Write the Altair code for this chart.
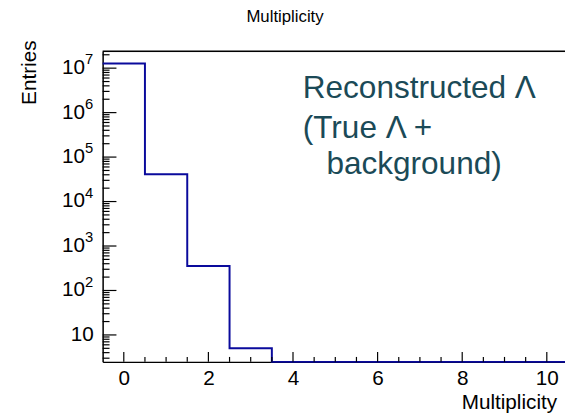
import altair as alt
import pandas as pd

# ---- data ----
bin_left_edges = [-0.5, 0.5, 1.5, 2.5, 3.5, 4.5, 5.5, 6.5, 7.5, 8.5, 9.5, 10.5]
bin_counts = [1.27e7, 4.1e4, 355, 5, 0, 0, 0, 0, 0, 0, 0, 0]  # last repeats for step end

x_major_ticks = [0, 2, 4, 6, 8, 10]
x_minor_ticks = [0.5, 1, 1.5, 2.5, 3, 3.5, 4.5, 5, 5.5, 6.5, 7, 7.5, 8.5, 9, 9.5]
y_major_exps = [1, 2, 3, 4, 5, 6, 7]
y_minor_ticks = [k * 10 ** n for n in range(0, 8) for k in range(2, 10)]

Y_MIN, Y_MAX = 2.48, 2.39e7
X_MIN, X_MAX = -0.5, 10.43
W, H = 469, 315
FONT = "Liberation Sans"
LINE_COLOR = "#0a0a9c"
TEXT_COLOR = "#1b4a57"

hist = pd.DataFrame({"edge": bin_left_edges, "count": bin_counts})
ymaj = pd.DataFrame({"exp": y_major_exps, "v": [10.0 ** e for e in y_major_exps]})
ymin_df = pd.DataFrame({"v": [v for v in y_minor_ticks if Y_MIN < v < Y_MAX]})
xmaj = pd.DataFrame({"v": x_major_ticks})
xmin_df = pd.DataFrame({"v": x_minor_ticks})
one = pd.DataFrame({"k": [0]})

xs = alt.Scale(domain=[X_MIN, X_MAX], nice=False, zero=False)
ys = alt.Scale(type="log", domain=[Y_MIN, Y_MAX], nice=False)

line = (
    alt.Chart(hist)
    .transform_calculate(yv=f"max(datum.count, {Y_MIN})")
    .mark_line(interpolate="step-after", color=LINE_COLOR, strokeWidth=2)
    .encode(
        x=alt.X("edge:Q", scale=xs,
                axis=alt.Axis(values=x_major_ticks, ticks=False, grid=False,
                              domainColor="black", domainWidth=1.2,
                              labelFont=FONT, labelFontSize=21, labelColor="black",
                              labelPadding=6, title=None)),
        y=alt.Y("yv:Q", scale=ys,
                axis=alt.Axis(labels=False, ticks=False, grid=False,
                              domainColor="black", domainWidth=1.5, title=None)),
    )
)

ytick_major = alt.Chart(ymaj).mark_rule(color="black", strokeWidth=1.2).encode(
    y=alt.Y("v:Q", scale=ys), x=alt.value(0), x2=alt.value(14))
ytick_minor = alt.Chart(ymin_df).mark_rule(color="black", strokeWidth=1.2).encode(
    y=alt.Y("v:Q", scale=ys), x=alt.value(0), x2=alt.value(7))
xtick_major = alt.Chart(xmaj).mark_rule(color="black", strokeWidth=1.2).encode(
    x=alt.X("v:Q", scale=xs), y=alt.value(H), y2=alt.value(H - 10))
xtick_minor = alt.Chart(xmin_df).mark_rule(color="black", strokeWidth=1.2).encode(
    x=alt.X("v:Q", scale=xs), y=alt.value(H), y2=alt.value(H - 5))

ylab_one = alt.Chart(ymaj).transform_filter("datum.exp == 1").mark_text(
    font=FONT, fontSize=21, align="right", baseline="middle", color="black").encode(
    y=alt.Y("v:Q", scale=ys), x=alt.value(-9), text=alt.value("10"))
ylab_base = alt.Chart(ymaj).transform_filter("datum.exp > 1").mark_text(
    font=FONT, fontSize=21, align="right", baseline="middle", color="black").encode(
    y=alt.Y("v:Q", scale=ys), x=alt.value(-18), text=alt.value("10"))
ylab_sup = alt.Chart(ymaj).transform_filter("datum.exp > 1").mark_text(
    font=FONT, fontSize=15, align="left", baseline="middle", color="black", dy=-9).encode(
    y=alt.Y("v:Q", scale=ys), x=alt.value(-18), text="exp:N")

top_frame = alt.Chart(one).mark_rule(color="black", strokeWidth=1.5).encode(
    x=alt.value(0), x2=alt.value(W), y=alt.value(0))

ytitle = alt.Chart(one).mark_text(
    font=FONT, fontSize=21, angle=270, align="right", baseline="middle", color="black").encode(
    x=alt.value(-74), y=alt.value(-11), text=alt.value("Entries"))
xtitle = alt.Chart(one).mark_text(
    font=FONT, fontSize=21, align="right", baseline="alphabetic", color="black").encode(
    x=alt.value(W - 8), y=alt.value(H + 48), text=alt.value("Multiplicity"))
main_title = alt.Chart(one).mark_text(
    font=FONT, fontSize=17, align="center", baseline="middle", color="black").encode(
    x=alt.value(185), y=alt.value(-35), text=alt.value("Multiplicity"))

ann_lines = ["Reconstructed \u039b", "(True \u039b +", "background)"]
ann_df = pd.DataFrame({"t": ann_lines, "xo": [203, 203, 227], "yo": [37, 78, 114]})
ann = alt.Chart(ann_df).mark_text(
    font=FONT, fontSize=32, align="left", baseline="middle", color=TEXT_COLOR).encode(
    x=alt.X("xo:Q", scale=None), y=alt.Y("yo:Q", scale=None), text="t:N")

chart = alt.layer(
    line, ytick_major, ytick_minor, xtick_major, xtick_minor,
    ylab_one, ylab_base, ylab_sup, top_frame, ytitle, xtitle, main_title, ann,
).properties(
    width=W, height=H,
    autosize=alt.AutoSizeParams(type="none"),
    padding={"left": 96, "top": 41, "right": 0, "bottom": 55},
).configure_view(stroke=None).configure(background="white")

chart.save("out.html", embed_options={"renderer": "svg", "actions": False})
